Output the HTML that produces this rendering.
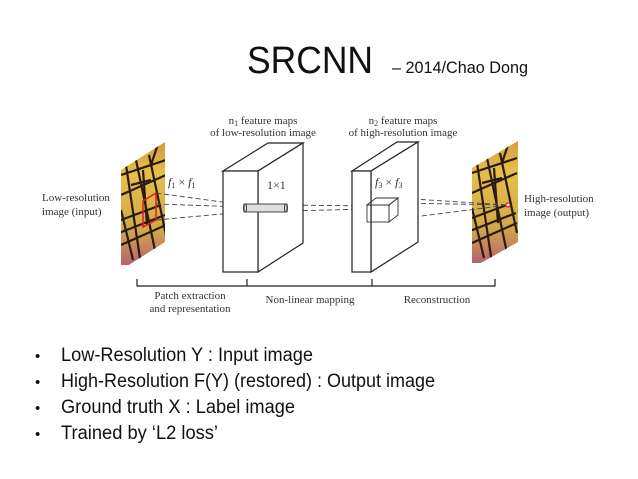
<!DOCTYPE html>
<html><head><meta charset="utf-8"><style>
html,body{margin:0;padding:0;background:#fff;}
svg{display:block}
.s{font-family:"Liberation Serif",serif;font-size:11px;fill:#333}
.t{font-family:"Liberation Sans","DejaVu Sans",sans-serif;fill:#111}
</style></head><body>
<svg width="638" height="479" viewBox="0 0 638 479" xmlns="http://www.w3.org/2000/svg">
<defs>
<linearGradient id="bf" x1="0" y1="0" x2="0" y2="1">
<stop offset="0" stop-color="#c98a3a"/><stop offset="0.35" stop-color="#e6bf4a"/><stop offset="0.75" stop-color="#d2a848"/><stop offset="1" stop-color="#b86070"/>
</linearGradient>
<clipPath id="c1"><polygon points="121,170 165,142 165,242 121,270"/></clipPath>
<clipPath id="c2"><polygon points="472,168 518,141 518,242 472,268"/></clipPath>
<g id="wing">
<rect x="-10" y="-40" width="70" height="140" fill="url(#bf)"/>
<g stroke="#2a1a10" stroke-width="2.2" fill="none">
<path d="M0,10 L45,-5 M0,30 L45,10 M5,0 L20,100 M15,-5 L35,90 M28,-10 L45,70 M0,55 L40,40 M0,80 L45,60 M10,20 L30,15 M40,-30 L30,0 M0,45 L12,95 M22,5 L26,60 M-2,68 L44,50"/>
</g>
</g>
</defs>
<text class="t" x="247" y="73" font-size="38" textLength="126" lengthAdjust="spacingAndGlyphs">SRCNN</text>
<text class="t" x="392" y="73" font-size="17" textLength="136" lengthAdjust="spacingAndGlyphs">– 2014/Chao Dong</text>

<g clip-path="url(#c1)"><use href="#wing" transform="translate(121,165)"/></g>
<g clip-path="url(#c2)"><use href="#wing" transform="translate(472,163)"/></g>
<polygon points="143,201 156,193 156,220 143,227" fill="none" stroke="#e02020" stroke-width="1.5"/>
<circle cx="508" cy="205" r="2" fill="#fff" stroke="#e02020" stroke-width="1.2"/>

<g stroke="#444" stroke-width="0.9" stroke-dasharray="5,3" fill="none">
<line x1="156" y1="193" x2="244" y2="205"/>
<line x1="156" y1="204" x2="244" y2="207"/>
<line x1="156" y1="220" x2="244" y2="212"/>
<line x1="287" y1="205" x2="368" y2="206"/>
<line x1="287" y1="211" x2="368" y2="209"/>
<line x1="397" y1="198" x2="508" y2="205"/>
<line x1="397" y1="203" x2="508" y2="205"/>
<line x1="390" y1="220" x2="508" y2="205"/>
</g>

<g stroke="#222" stroke-width="1.2" fill="#fff">
<polygon points="223,171 268,143 303,143 258,171"/>
<polygon points="258,171 303,143 303,243 258,272"/>
<rect x="223" y="171" width="35" height="101"/>
<polygon points="352,171 397,142 418,142 371,171"/>
<polygon points="371,171 418,142 418,242 371,272"/>
<rect x="352" y="171" width="19" height="101"/>
</g>
<g stroke="#333" stroke-width="0.9" fill="#ddd">
<rect x="244" y="204" width="43" height="8"/>
</g>
<g stroke="#333" stroke-width="0.9" fill="none">
<ellipse cx="245" cy="208" rx="1.5" ry="4"/><ellipse cx="286" cy="208" rx="1.5" ry="4"/>
<rect x="367" y="205" width="22" height="17"/>
<polygon points="367,205 376,198 398,198 389,205"/>
<polygon points="389,205 398,198 398,215 389,222"/>
</g>

<g class="s">
<text x="263" y="124" text-anchor="middle">n<tspan font-size="8" dy="2">1</tspan><tspan dy="-2"> feature maps</tspan></text>
<text x="263" y="136" text-anchor="middle">of low-resolution image</text>
<text x="403" y="124" text-anchor="middle">n<tspan font-size="8" dy="2">2</tspan><tspan dy="-2"> feature maps</tspan></text>
<text x="403" y="136" text-anchor="middle">of high-resolution image</text>
<text x="42" y="201">Low-resolution</text>
<text x="42" y="215">image (input)</text>
<text x="524" y="202">High-resolution</text>
<text x="524" y="216">image (output)</text>
<text x="168" y="186" font-size="12"><tspan font-style="italic">f</tspan><tspan font-size="8" dy="2">1</tspan><tspan dy="-2"> × </tspan><tspan font-style="italic">f</tspan><tspan font-size="8" dy="2">1</tspan></text>
<text x="267" y="189" font-size="12">1×1</text>
<text x="375" y="186" font-size="12"><tspan font-style="italic">f</tspan><tspan font-size="8" dy="2">3</tspan><tspan dy="-2"> × </tspan><tspan font-style="italic">f</tspan><tspan font-size="8" dy="2">3</tspan></text>
<text x="190" y="299" text-anchor="middle">Patch extraction</text>
<text x="190" y="312" text-anchor="middle">and representation</text>
<text x="310" y="303" text-anchor="middle">Non-linear mapping</text>
<text x="437" y="303" text-anchor="middle">Reconstruction</text>
</g>
<path d="M137,279 V286 H495 V279 M247,279 V286 M372,279 V286" stroke="#222" stroke-width="1.2" fill="none"/>

<g class="t" font-size="19">
<text x="35" y="361" font-size="15">•</text><text x="61" y="361" textLength="252" lengthAdjust="spacingAndGlyphs">Low-Resolution Y : Input image</text>
<text x="35" y="387" font-size="15">•</text><text x="61" y="387" textLength="374" lengthAdjust="spacingAndGlyphs">High-Resolution F(Y) (restored) : Output image</text>
<text x="35" y="413" font-size="15">•</text><text x="61" y="413" textLength="234" lengthAdjust="spacingAndGlyphs">Ground truth X : Label image</text>
<text x="35" y="439" font-size="15">•</text><text x="61" y="439" textLength="157" lengthAdjust="spacingAndGlyphs">Trained by ‘L2 loss’</text>
</g>
</svg>
</body></html>
